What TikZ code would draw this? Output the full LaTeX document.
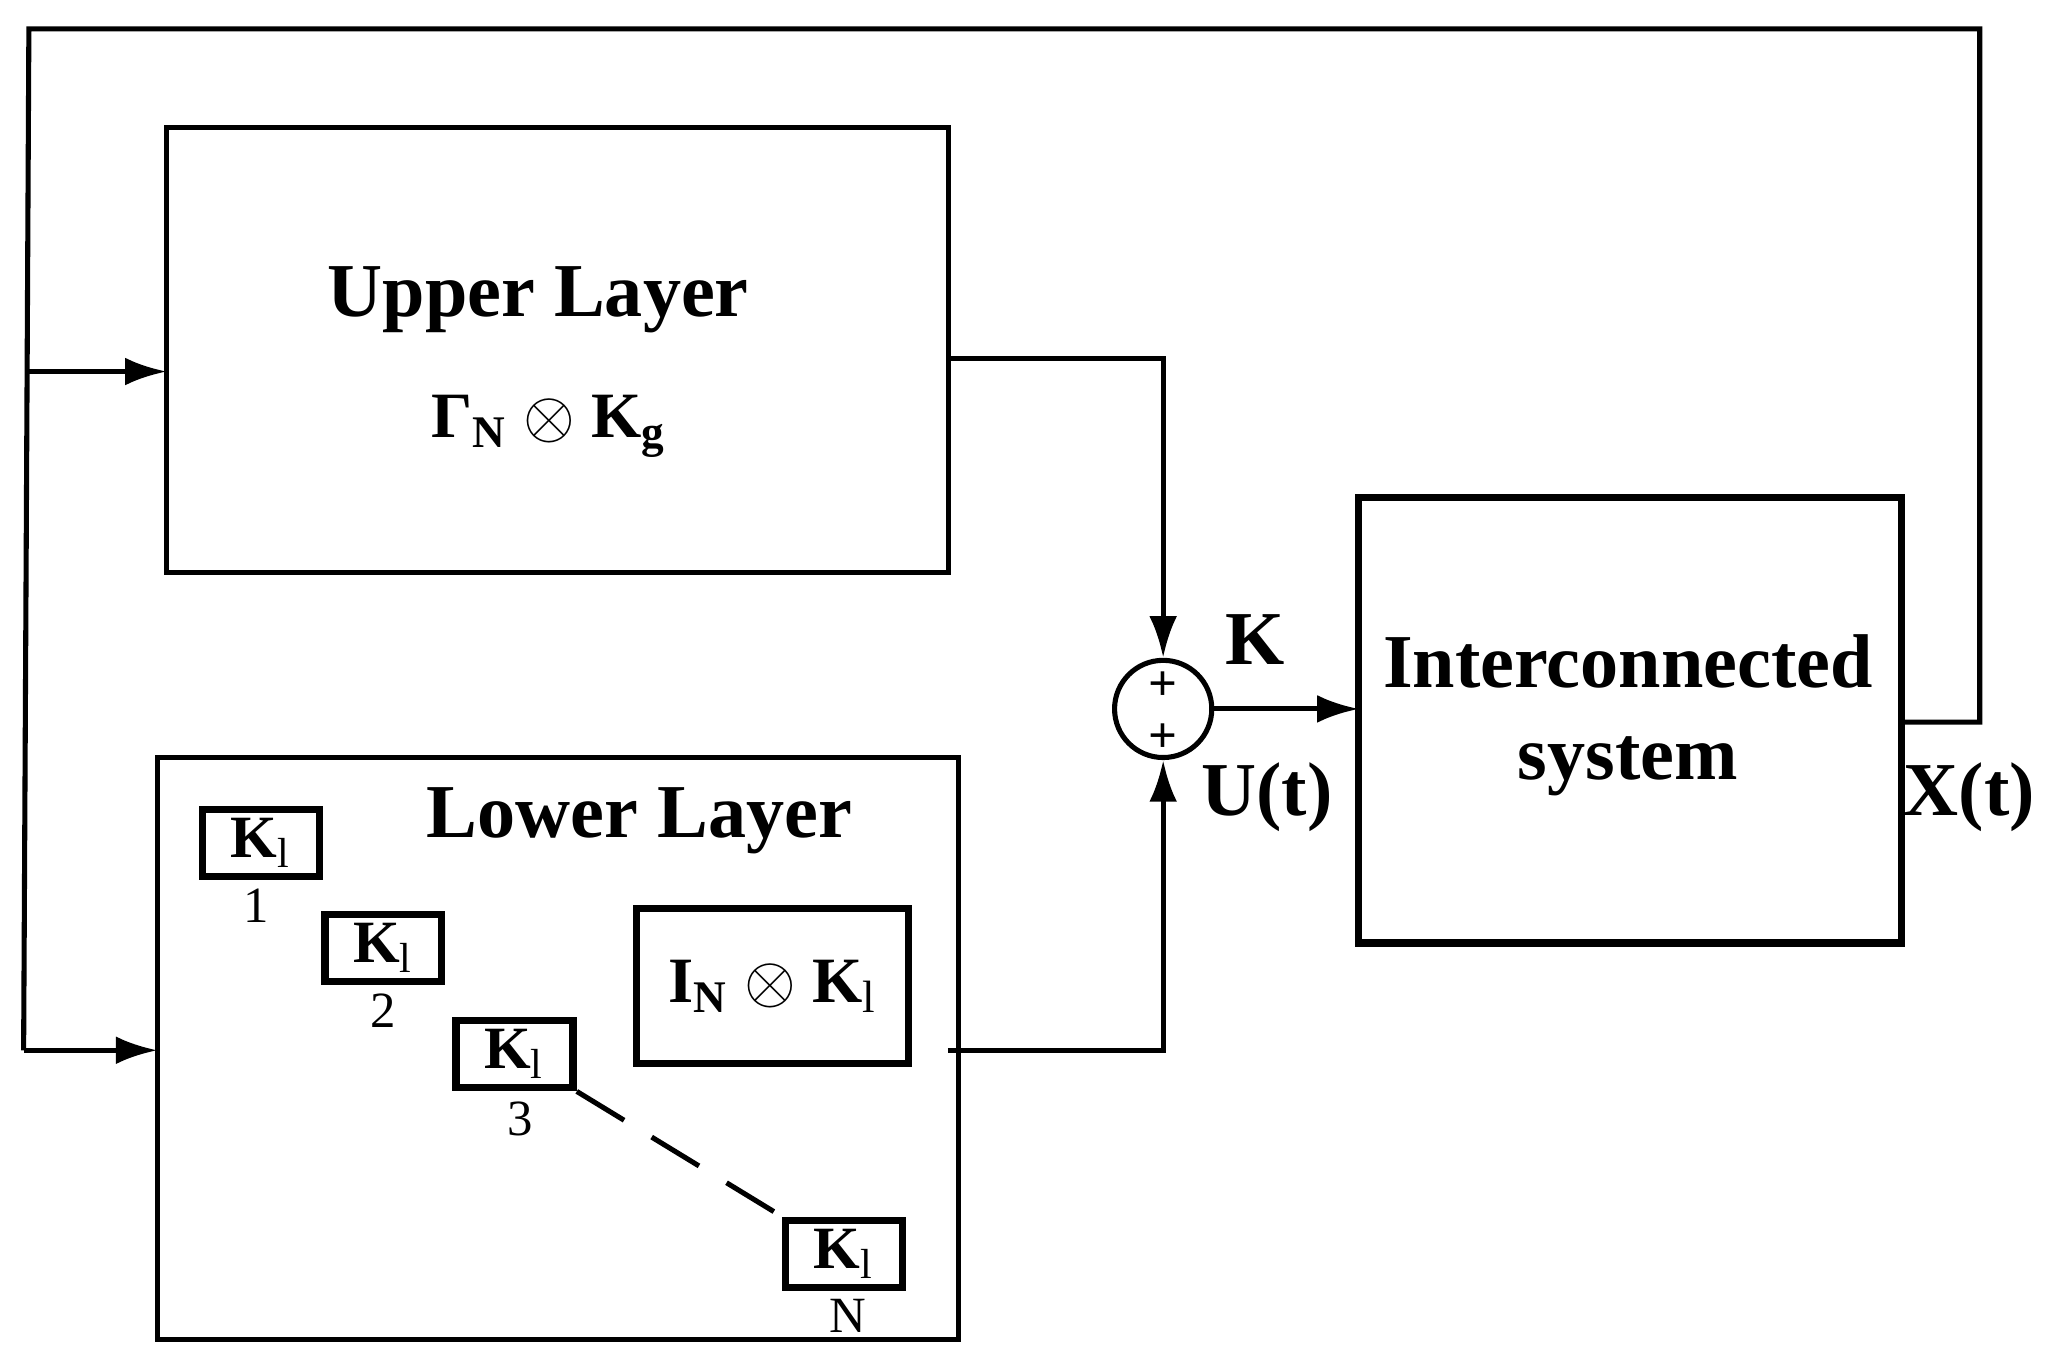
\documentclass[tikz,border=0pt]{standalone}
\usepackage{fontspec}
\setmainfont{Liberation Serif}
\usetikzlibrary{arrows.meta}
\begin{document}
\begin{tikzpicture}[x=0.01cm,y=-0.01cm,line width=1.1pt,
  arr/.style={-{Latex[length=9pt,width=6pt]}},
  kb/.style={draw,line width=1.6pt,minimum width=0.89cm,minimum height=0.51cm,inner sep=0pt,font=\fontsize{13}{13}\selectfont\bfseries},
  lab/.style={font=\fontsize{11}{11}\selectfont},
  big/.style={font=\fontsize{16.5}{20}\selectfont\bfseries,align=center}]
\useasboundingbox (0,0) rectangle (1560,1042);
\node[draw,outer sep=0pt,minimum width=5.95cm,minimum height=3.39cm,anchor=north west] (up) at (127,97) {};
\node[big] at (410,228) {Upper Layer};
\node[font=\fontsize{14}{14}\selectfont\bfseries] at (418,325) {Γ$_{\mathbf{N}}$ $\otimes$ K$_{\mathbf{g}}$};
\node[draw,outer sep=0pt,minimum width=6.1cm,minimum height=4.43cm,anchor=north west] (low) at (120,577) {};
\node[big] at (487,625) {Lower Layer};
\node[kb] (k1) at (199,642) {K$_{\mathrm{l}}$}; \node[lab] at (195,690) {1};
\node[kb] (k2) at (292,722) {K$_{\mathrm{l}}$}; \node[lab] at (292,770) {2};
\node[kb] (k3) at (392,803) {K$_{\mathrm{l}}$}; \node[lab] at (396,852) {3};
\node[kb] (kn) at (643,955) {K$_{\mathrm{l}}$}; \node[lab] at (646,1002) {N};
\draw[dashed,dash pattern=on 12pt off 7pt] (k3.south east) -- (kn.north west);
\node[draw,line width=1.6pt,outer sep=0pt,minimum width=2.07cm,minimum height=1.18cm,anchor=north west,font=\fontsize{14}{14}\selectfont\bfseries] (in) at (485,692) {I$_{\mathbf{N}}$ $\otimes$ K$_{\mathrm{l}}$};
\node[draw,circle,minimum size=0.74cm,inner sep=0pt] (s) at (886,540) {};
\node[font=\fontsize{11}{11}\selectfont\bfseries] at (886,523) {+};
\node[font=\fontsize{11}{11}\selectfont\bfseries] at (886,562) {+};
\node[draw,line width=1.6pt,outer sep=0pt,minimum width=4.13cm,minimum height=3.39cm,anchor=north west] (sys) at (1035,379) {};
\node[big] at (1240,545) {Interconnected\\system};
\node[big] at (956,487) {K};
\node[big] at (965,607) {U(t)};
\node[big] at (1500,607) {X(t)};
\coordinate (c1) at (886,273); \coordinate (c2) at (886,800);
\coordinate (o1) at (1508,550); \coordinate (o2) at (1508,22);
\coordinate (o3) at (22,22); \coordinate (o4) at (18,800); \coordinate (br) at (20,283);
\draw[arr] (724,273) -- (c1) -- (s.north);
\draw[arr] (722,800) -- (c2) -- (s.south);
\draw[arr] (s.east) -- (sys.west |- s.east);
\draw (1450,550) -- (o1) -- (o2) -- (o3) -- (o4);
\draw[arr] (br) -- (up.west |- br);
\draw[arr] (o4) -- (low.west |- o4);
\end{tikzpicture}
\end{document}
